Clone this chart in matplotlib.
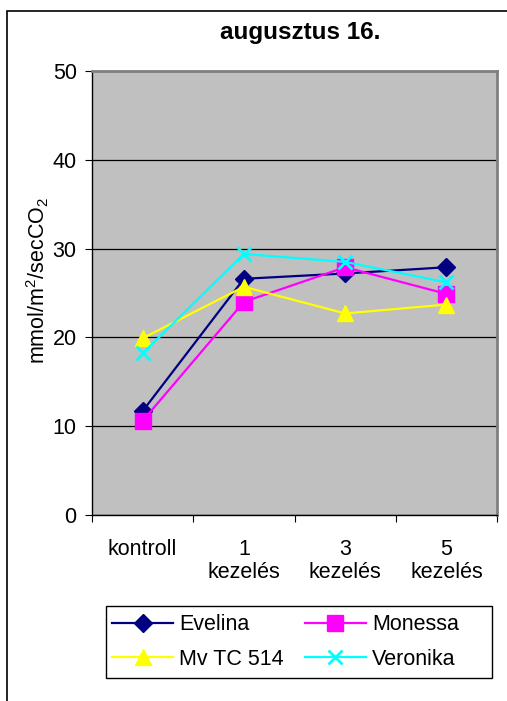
import matplotlib
matplotlib.use("Agg")
import matplotlib.pyplot as plt
from matplotlib.patches import Rectangle

categories = ["kontroll", "1\nkezelés", "3\nkezelés", "5\nkezelés"]
series_names = ["Evelina", "Monessa", "Mv TC 514", "Veronika"]
evelina = [11.7, 26.6, 27.2, 27.9]
monessa = [10.6, 24.0, 27.9, 24.9]
mvtc514 = [19.9, 25.7, 22.7, 23.7]
veronika = [18.2, 29.4, 28.5, 26.2]
yticks = [0, 10, 20, 30, 40, 50]

values = [evelina, monessa, mvtc514, veronika]
colors = ["#000080", "#FF00FF", "#FFFF00", "#00FFFF"]
markers = ["D", "s", "^", "x"]
msizes = [9, 11, 11, 10]

plt.rcParams['font.family'] = ['Liberation Sans', 'DejaVu Sans']
plt.rcParams['mathtext.fontset'] = 'custom'
plt.rcParams['mathtext.rm'] = 'Liberation Sans'
plt.rcParams['mathtext.it'] = 'Liberation Sans'

W, H = 507, 701
FS = 15.5
fig = plt.figure(figsize=(W / 100, H / 100), dpi=100)

# outer chart frame
fig.add_artist(Rectangle((7 / W, -0.1), 1.2, 1 - 11 / H + 0.1, transform=fig.transFigure,
                         fill=False, edgecolor="black", linewidth=1.2))

ax = fig.add_axes([92 / W, 1 - 515 / H, (497 - 92) / W, (515 - 71) / H])
ax.set_facecolor("#C0C0C0")
x = list(range(len(categories)))
lines = []
for name, vals, c, m, ms in zip(series_names, values, colors, markers, msizes):
    ln, = ax.plot(x, vals, color=c, marker=m, markersize=ms, linewidth=1.6, label=name,
                  markeredgewidth=2 if m == "x" else 1, markeredgecolor=c, zorder=3)
    lines.append(ln)

ax.set_xlim(-0.5, len(categories) - 0.5)
ax.set_ylim(0, 50)
ax.set_yticks(yticks)
ax.set_yticklabels([str(v) for v in yticks], fontsize=FS)
ax.yaxis.grid(True, color="black", linewidth=0.9)
ax.set_axisbelow(True)
ax.set_xticks([-0.5, 0.5, 1.5, 2.5, 3.5])
ax.set_xticklabels([])
ax.set_xticks(x, minor=True)
ax.set_xticklabels(categories, minor=True, fontsize=FS, linespacing=1.12)
ax.tick_params(axis="x", which="minor", length=0, pad=17)
ax.tick_params(axis="x", which="major", length=5, direction="out", color="black")
ax.tick_params(axis="y", length=5, direction="out", pad=6)
for s in ["top", "right"]:
    ax.spines[s].set_color("#808080")
    ax.spines[s].set_linewidth(2)
for s in ["left", "bottom"]:
    ax.spines[s].set_color("black")
    ax.spines[s].set_linewidth(1)

ax.set_ylabel("mmol/m$^2$/secCO$_2$", fontsize=FS)
ax.yaxis.set_label_coords((51 - 92) / 405, (515 - 280) / 444)

fig.text(300 / W, 1 - 33 / H, "augusztus 16.", fontsize=17.5, fontweight="bold",
         ha="center", va="center")

# legend frame
fig.add_artist(Rectangle((106 / W, 1 - 678 / H), 386 / W, 72 / H, transform=fig.transFigure,
                         fill=False, edgecolor="black", linewidth=1))
order = [0, 2, 1, 3]
leg = fig.legend([lines[i] for i in order], [series_names[i] for i in order], ncol=2,
                 loc="upper left", bbox_to_anchor=(106 / W, 1 - 608 / H),
                 fontsize=FS, frameon=False,
                 handlelength=2.8, columnspacing=1.0, handletextpad=0.3,
                 labelspacing=0.62, borderpad=0.3, borderaxespad=0)

fig.savefig("out.png", dpi=100, facecolor="white")
